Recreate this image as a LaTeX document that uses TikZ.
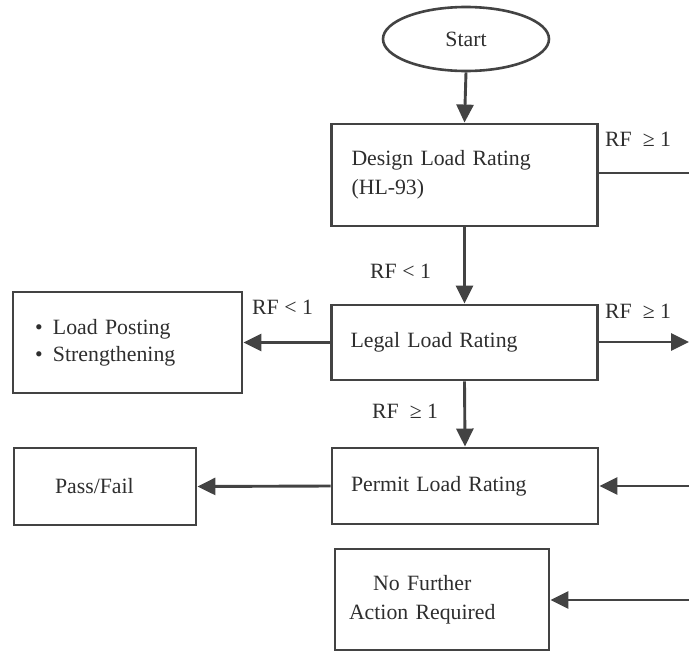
\documentclass[tikz,border=0pt]{standalone}
\usepackage{fontspec}
\setmainfont{Liberation Serif}
\usetikzlibrary{arrows.meta,shapes.geometric}
\definecolor{ink}{HTML}{434343}
\definecolor{txt}{HTML}{2E2E2E}
\newcommand{\flowfont}{\fontsize{21.8}{29}\selectfont}
\begin{document}
\begin{tikzpicture}[x=1pt,y=-1pt,
  box/.style={draw=ink, line width=2.9pt, rectangle, align=left, text=txt,
    font=\flowfont, inner ysep=0pt},
  oval/.style={draw=ink, line width=2.6pt, ellipse, text=txt, font=\flowfont,
    inner sep=0pt, minimum width=166pt, minimum height=64pt},
  flow/.style={draw=ink, line width=2.9pt, -{Triangle[length=18pt,width=17pt]}},
  plainline/.style={draw=ink, line width=2.9pt},
  cond/.style={text=txt, font=\flowfont, anchor=base west, inner sep=0pt}]
\useasboundingbox[fill=white] (0,0) rectangle (689,651);

\node[oval] (start) at (466,39) {Start};
\node[box, minimum height=102pt, text width=226pt, inner xsep=20pt] (design) at (464.5,175)
  {Design Load Rating\\(HL-93)};
\node[box, minimum height=75pt, text width=228pt, inner xsep=19pt] (legal) at (464.5,342.5)
  {Legal Load Rating};
\node[box, minimum height=76pt, text width=228pt, inner xsep=19pt] (permit) at (465,486)
  {Permit Load Rating};
\node[box, minimum height=101pt, text width=185pt, inner xsep=22pt] (lp) at (127.5,342.5)
  {\makebox[18pt][l]{•}Load Posting\\[-2pt]\makebox[18pt][l]{•}Strengthening};
\node[box, minimum height=77pt, text width=100pt, inner xsep=41pt] (pass) at (105,486.5)
  {Pass/Fail};
\node[box, minimum height=101pt, text width=186pt, inner xsep=14pt] (nf) at (442,599.5)
  {\begin{tabular}{@{}c@{}}No Further\\Action Required\end{tabular}};

\coordinate (e1) at (689,173);
\coordinate (e2) at (689,342);
\coordinate (e3) at (689,486);
\coordinate (e4) at (689,600);

\draw[flow] (start.south) -- (design.north);
\draw[plainline] (design.east |- e1) -- (e1);
\draw[flow] (design.south) -- (legal.north);
\draw[flow] (legal.east |- e2) -- (e2);
\draw[flow] (legal.west) -- (lp.east);
\draw[flow] (legal.south) -- (permit.north);
\draw[flow] (permit.west) -- (pass.east);
\draw[flow] (e3) -- (permit.east |- e3);
\draw[flow] (e4) -- (nf.east |- e4);

\node[cond] (c1) at (605,146) {RF~~≥ 1};
\node[cond] (c2) at (370,278) {RF < 1};
\node[cond] (c3) at (605,318) {RF~~≥ 1};
\node[cond] (c4) at (252,314) {RF < 1};
\node[cond] (c5) at (372,418) {RF~~≥ 1};
\end{tikzpicture}
\end{document}
